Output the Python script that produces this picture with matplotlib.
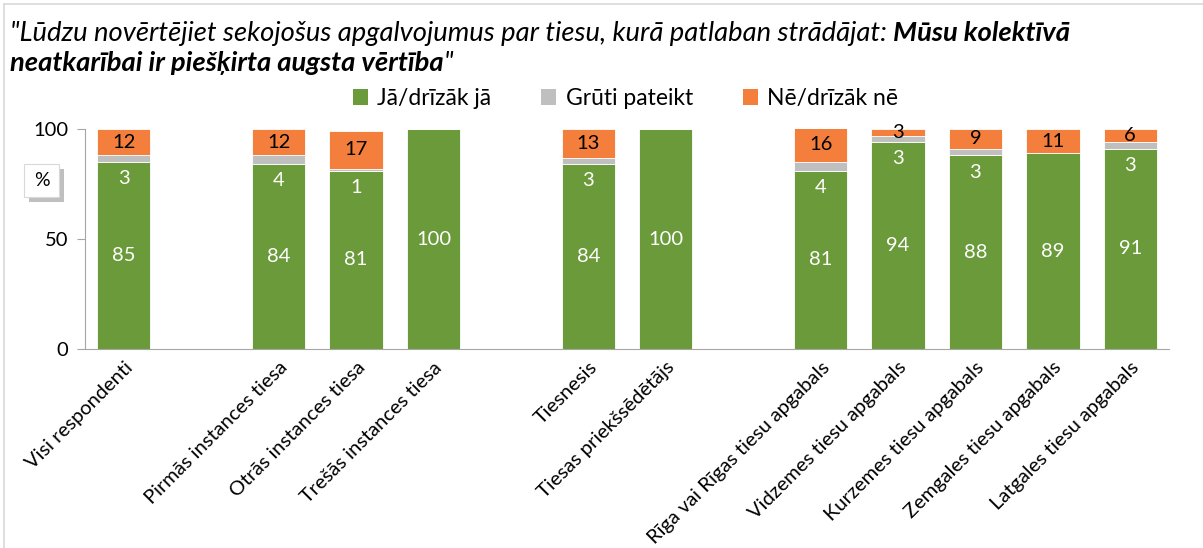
import numpy as np
import matplotlib.pyplot as plt
from matplotlib.patches import Patch, Rectangle
from matplotlib.lines import Line2D

plt.rcParams['font.family'] = ['Lato', 'DejaVu Sans']

# Kategorijas pa grupām (starp grupām viena tukša vieta)
kategorijas = ['Visi respondenti',
               'Pirmās instances tiesa', 'Otrās instances tiesa', 'Trešās instances tiesa',
               'Tiesnesis', 'Tiesas priekšsēdētājs',
               'Rīga vai Rīgas tiesu apgabals', 'Vidzemes tiesu apgabals',
               'Kurzemes tiesu apgabals', 'Zemgales tiesu apgabals', 'Latgales tiesu apgabals']
grupu_izmeri = [1, 3, 2, 5]

ja = [85, 84, 81, 100, 84, 100, 81, 94, 88, 89, 91]
gruti = [3, 4, 1, 0, 3, 0, 4, 3, 3, 0, 3]
ne = [12, 12, 17, 0, 13, 0, 16, 3, 9, 11, 6]

serijas = ['Jā/drīzāk jā', 'Grūti pateikt', 'Nē/drīzāk nē']
krasas = ['#6A9A3A', '#BFBFBF', '#F47E3C']

# x pozīcijas: katrai grupai seko viena tukša vieta
x = []
pos = 0
for n in grupu_izmeri:
    for i in range(n):
        x.append(pos)
        pos += 1
    pos += 1
x = np.array(x)

fig = plt.figure(figsize=(12.03, 5.48), dpi=100)
ax = fig.add_axes([0.0707, 0.3631, 0.9010, 0.4015])

ja = np.array(ja)
gruti = np.array(gruti)
ne = np.array(ne)
platums = 0.69
ax.bar(x, ja, platums, color=krasas[0], edgecolor='white', linewidth=0.6)
ax.bar(x, gruti, platums, bottom=ja, color=krasas[1], edgecolor='white', linewidth=0.6)
ax.bar(x, ne, platums, bottom=ja + gruti, color=krasas[2], edgecolor='white', linewidth=0.6)

# vērtību uzraksti
for xi, a, g, n in zip(x, ja, gruti, ne):
    ax.text(xi, a / 2, str(a), ha='center', va='center', color='white', fontsize=14.5)
    if g > 0:
        ax.annotate(str(g), (xi, a), xytext=(0, -12), textcoords='offset points',
                    ha='center', va='center', color='white', fontsize=14.5)
    if n > 0:
        ax.text(xi, a + g + n / 2, str(n), ha='center', va='center', color='black', fontsize=14.5)

ax.set_xlim(-0.5, pos - 1.5)
ax.set_ylim(0, 100)
ax.set_yticks([0, 50, 100])
ax.tick_params(axis='y', labelsize=14.5, length=6, color='#A6A6A6', pad=6)
ax.set_xticks(x)
ax.set_xticklabels(kategorijas, rotation=45, ha='right', rotation_mode='anchor', fontsize=14.5)
ax.tick_params(axis='x', length=0, pad=7)
for s in ['top', 'right']:
    ax.spines[s].set_visible(False)
ax.spines['left'].set_color('#A6A6A6')
ax.spines['bottom'].set_color('#A6A6A6')

# leģenda
rokturi = [Patch(facecolor=c, edgecolor='none') for c in krasas]
fig.legend(rokturi, serijas, loc='center', bbox_to_anchor=(0.52, 0.82), ncol=3,
           frameon=False, fontsize=16.5, handlelength=0.65, handleheight=0.65,
           handletextpad=0.4, columnspacing=2.2)

# "%" lodziņš ar ēnu
fig.patches.append(Rectangle((29 / 1203, 1 - 202 / 548), 35 / 1203, 33 / 548,
                             transform=fig.transFigure, facecolor='#BFBFBF', edgecolor='none'))
fig.patches.append(Rectangle((24 / 1203, 1 - 197 / 548), 35 / 1203, 33 / 548,
                             transform=fig.transFigure, facecolor='white', edgecolor='#D9D9D9', lw=0.8))
fig.text(41.5 / 1203, 1 - 181 / 548, '%', ha='center', va='center', fontsize=14)

# rāmis ap attēlu
fig.add_artist(Line2D([4 / 1203, 1], [1 - 4 / 548] * 2, color='#D9D9D9', lw=1.2))
fig.add_artist(Line2D([4 / 1203] * 2, [0, 1 - 4 / 548], color='#D9D9D9', lw=1.2))

# virsraksts ar jauktiem stiliem
renderer = fig.canvas.get_renderer()


def rinda(x0, y0, gabali):
    for teksts, svars in gabali:
        t = fig.text(x0, y0, teksts, style='italic', fontweight=svars, fontsize=19.7,
                     va='baseline', ha='left')
        bb = t.get_window_extent(renderer)
        x0 += bb.width / fig.bbox.width


rinda(10 / 1203, 1 - 41 / 548,
      [('"Lūdzu novērtējiet sekojošus apgalvojumus par tiesu, kurā patlaban strādājat: ', 'normal'),
       ('Mūsu kolektīvā', 'bold')])
rinda(10 / 1203, 1 - 71 / 548,
      [('neatkarībai ir piešķirta augsta vērtība', 'bold'), ('"', 'normal')])

fig.savefig('out.png', dpi=100)
